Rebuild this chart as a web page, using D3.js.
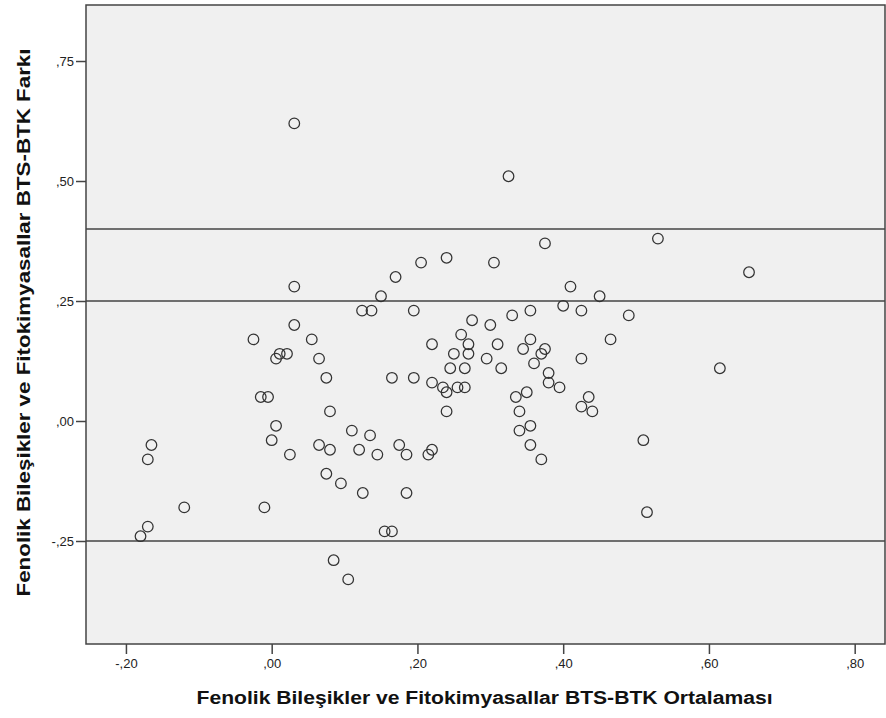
<!DOCTYPE html>
<html>
<head>
<meta charset="utf-8">
<script src="https://cdn.jsdelivr.net/npm/d3@7"></script>
<style>
  html, body { margin: 0; padding: 0; background: #ffffff; }
  svg { display: block; }
  text { font-family: Arial, "Liberation Sans", sans-serif; }
</style>
</head>
<body>
<svg id="chart" width="886" height="718"></svg>
<script>
// Mean of the two measurements (x) and their difference (y)
const meanValues = [
  0.031, 0.031, 0.124, 0.137, 0.031, -0.025, 0.055, 0.011, 0.021, 0.006,
  0.065, 0.075, -0.015, -0.005, 0.080, 0.006, 0.000, 0.110, 0.135, -0.165,
  -0.170, 0.065, 0.080, 0.120, 0.025, 0.075, 0.095, 0.125, -0.120, -0.010,
  -0.170, -0.180, 0.085, 0.105,
  0.325, 0.375, 0.240, 0.205, 0.305, 0.170, 0.150, 0.410, 0.450, 0.195,
  0.400, 0.425, 0.355, 0.330, 0.490, 0.275, 0.300, 0.260, 0.220, 0.270,
  0.310, 0.355, 0.345, 0.375, 0.465, 0.250, 0.270, 0.370, 0.295, 0.425,
  0.245, 0.265, 0.315, 0.360, 0.165, 0.195, 0.380, 0.380, 0.395, 0.220,
  0.235, 0.240, 0.255, 0.265, 0.240, 0.335, 0.350, 0.340, 0.435, 0.425,
  0.440, 0.355, 0.340, 0.355, 0.370, 0.145, 0.175, 0.185, 0.215, 0.220,
  0.185, 0.155, 0.165, 0.510, 0.515,
  0.615, 0.530, 0.655
];
const diffValues = [
  0.62, 0.28, 0.23, 0.23, 0.20, 0.17, 0.17, 0.14, 0.14, 0.13,
  0.13, 0.09, 0.05, 0.05, 0.02, -0.01, -0.04, -0.02, -0.03, -0.05,
  -0.08, -0.05, -0.06, -0.06, -0.07, -0.11, -0.13, -0.15, -0.18, -0.18,
  -0.22, -0.24, -0.29, -0.33,
  0.51, 0.37, 0.34, 0.33, 0.33, 0.30, 0.26, 0.28, 0.26, 0.23,
  0.24, 0.23, 0.23, 0.22, 0.22, 0.21, 0.20, 0.18, 0.16, 0.16,
  0.16, 0.17, 0.15, 0.15, 0.17, 0.14, 0.14, 0.14, 0.13, 0.13,
  0.11, 0.11, 0.11, 0.12, 0.09, 0.09, 0.10, 0.08, 0.07, 0.08,
  0.07, 0.06, 0.07, 0.07, 0.02, 0.05, 0.06, 0.02, 0.05, 0.03,
  0.02, -0.01, -0.02, -0.05, -0.08, -0.07, -0.05, -0.07, -0.07, -0.06,
  -0.15, -0.23, -0.23, -0.04, -0.19,
  0.11, 0.38, 0.31
];
// Horizontal reference lines
const refLines = [0.40, 0.25, -0.25];
// Axis ticks
const xTicks = [-0.20, 0.00, 0.20, 0.40, 0.60, 0.80];
const yTicks = [-0.25, 0.00, 0.25, 0.50, 0.75];
const xTitle = "Fenolik Bileşikler ve Fitokimyasallar BTS-BTK Ortalaması";
const yTitle = "Fenolik Bileşikler ve Fitokimyasallar BTS-BTK Farkı";

const svg = d3.select("#chart");
const plot = { left: 86, right: 885, top: 5, bottom: 644 };

const x = d3.scaleLinear()
  .domain([-0.2548, 0.8416])
  .range([plot.left, plot.right]);
const y = d3.scaleLinear()
  .domain([-0.4646, 0.8667])
  .range([plot.bottom, plot.top]);

// Decimal comma without leading zero: -0.2 -> "-,20"
const fmt = v => d3.format(".2f")(v).replace("0.", ",").replace("−", "-");

// Plot background
svg.append("rect")
  .attr("x", plot.left).attr("y", plot.top)
  .attr("width", plot.right - plot.left).attr("height", plot.bottom - plot.top)
  .attr("fill", "#f0f0f0");

// Reference lines
svg.append("g").selectAll("line")
  .data(refLines).join("line")
  .attr("x1", plot.left).attr("x2", plot.right)
  .attr("y1", d => y(d)).attr("y2", d => y(d))
  .attr("stroke", "#444").attr("stroke-width", 1.3);

// Points
const pts = meanValues.map((m, i) => ({ m, d: diffValues[i] }));
svg.append("g").selectAll("circle")
  .data(pts).join("circle")
  .attr("cx", d => x(d.m)).attr("cy", d => y(d.d))
  .attr("r", 5.3)
  .attr("fill", "none")
  .attr("stroke", "#333")
  .attr("stroke-width", 1.25);

// Frame
svg.append("rect")
  .attr("x", plot.left).attr("y", plot.top)
  .attr("width", plot.right - plot.left).attr("height", plot.bottom - plot.top)
  .attr("fill", "none").attr("stroke", "#444").attr("stroke-width", 1.5);

// Axes
const xAxis = svg.append("g")
  .attr("transform", `translate(0,${plot.bottom})`)
  .call(d3.axisBottom(x).tickValues(xTicks).tickFormat(fmt).tickSize(10).tickSizeOuter(0).tickPadding(5));
const yAxis = svg.append("g")
  .attr("transform", `translate(${plot.left},0)`)
  .call(d3.axisLeft(y).tickValues(yTicks).tickFormat(fmt).tickSize(10).tickSizeOuter(0).tickPadding(2));

[xAxis, yAxis].forEach(g => {
  g.select(".domain").remove();
  g.selectAll(".tick line").attr("stroke", "#444").attr("stroke-width", 1.5);
  g.selectAll(".tick text")
    .attr("fill", "#222")
    .style("font-size", "13px")
    .style("font-family", "Arial, 'Liberation Sans', sans-serif");
});

// Axis titles (wide bold face)
svg.append("text")
  .attr("x", (plot.left + plot.right) / 2 - 1)
  .attr("y", 704)
  .attr("text-anchor", "middle")
  .attr("fill", "#111")
  .attr("textLength", 576)
  .attr("lengthAdjust", "spacingAndGlyphs")
  .style("font-size", "18px")
  .style("font-weight", "bold")
  .text(xTitle);

svg.append("text")
  .attr("transform", `translate(30,${(plot.top + plot.bottom) / 2 - 2}) rotate(-90)`)
  .attr("text-anchor", "middle")
  .attr("fill", "#111")
  .attr("textLength", 548)
  .attr("lengthAdjust", "spacingAndGlyphs")
  .style("font-size", "18px")
  .style("font-weight", "bold")
  .text(yTitle);
</script>
</body>
</html>
